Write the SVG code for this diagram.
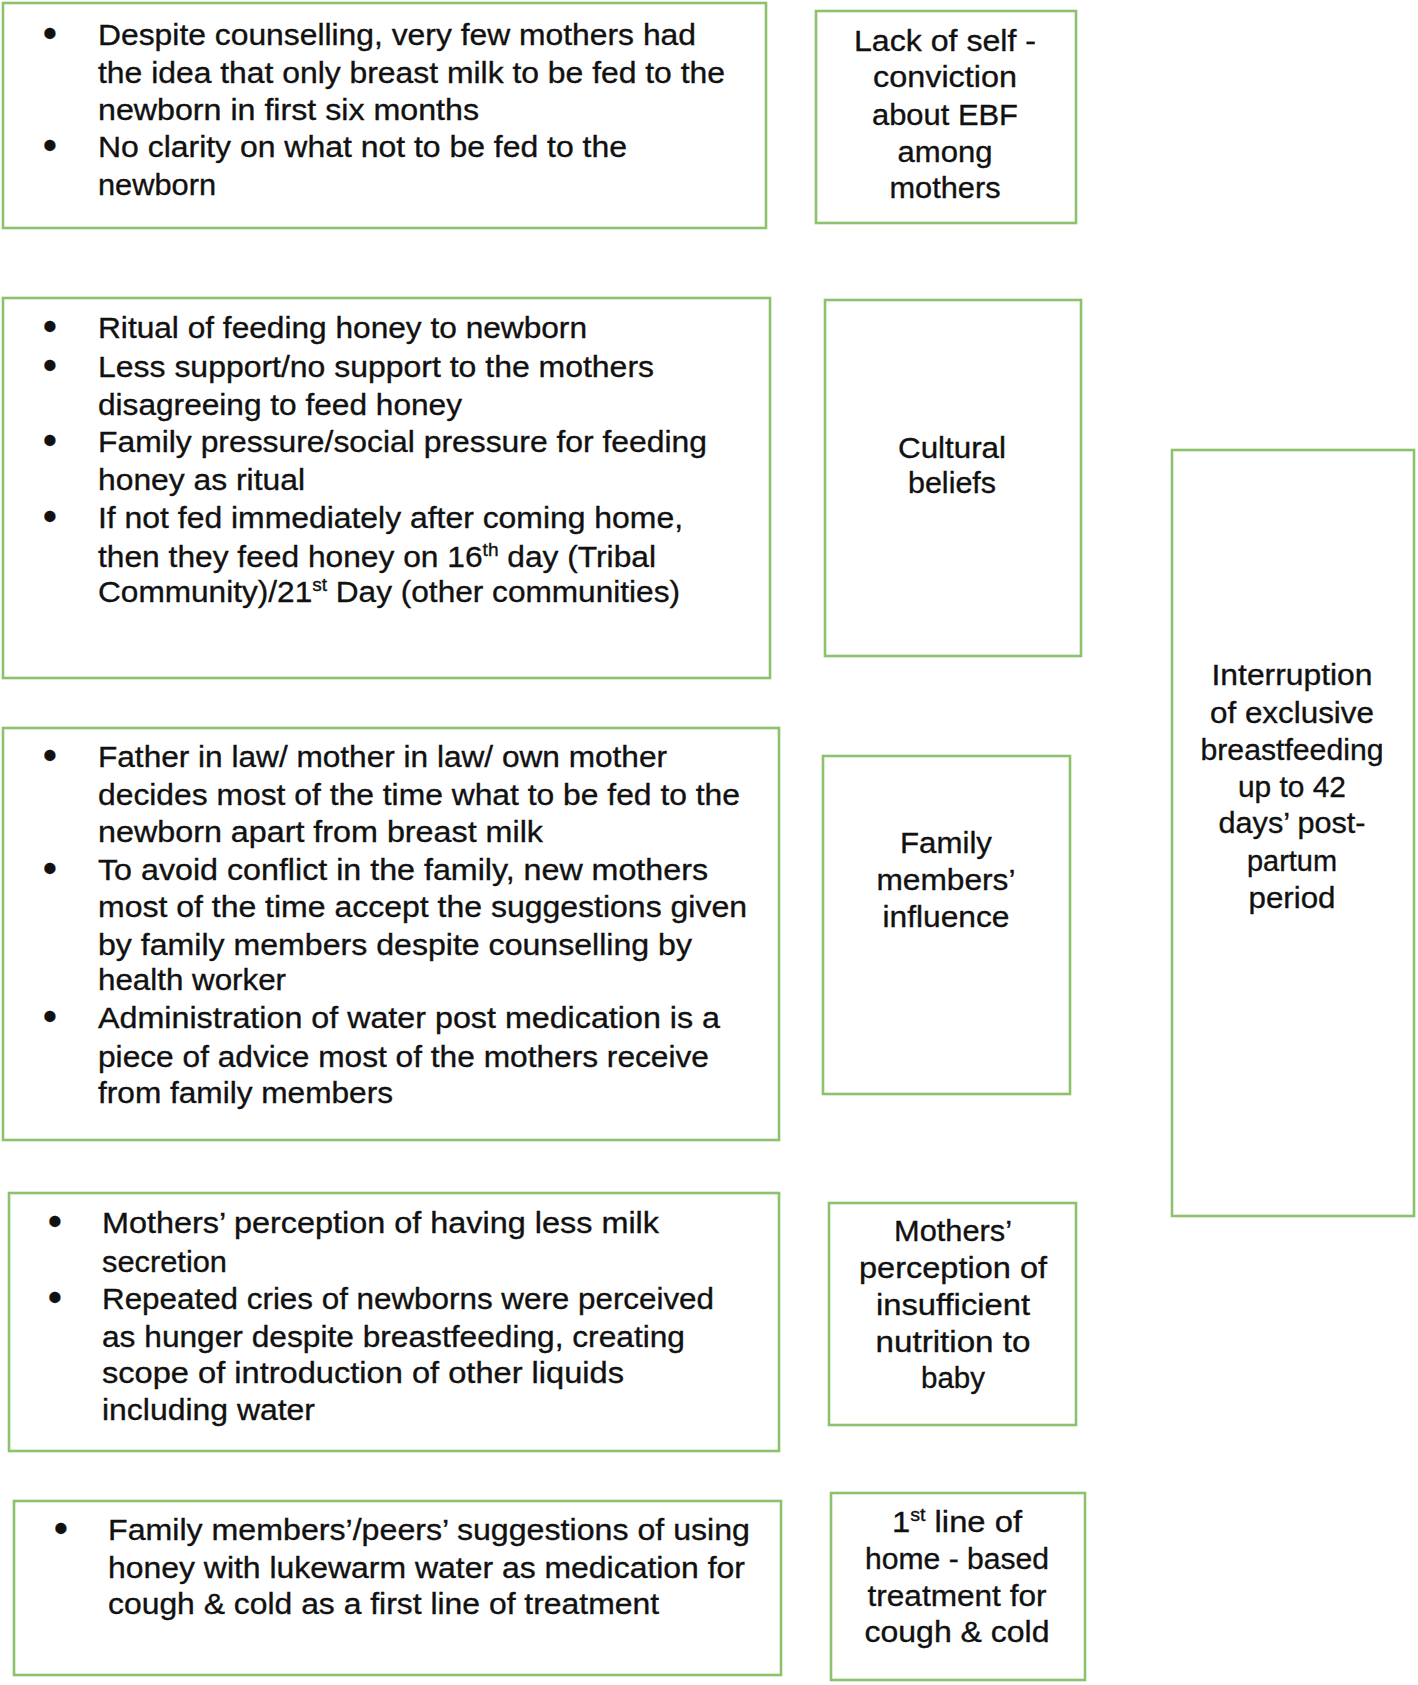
<svg xmlns="http://www.w3.org/2000/svg" width="1418" height="1685" viewBox="0 0 1418 1685">
<style>
.box{fill:#fff;stroke:#8dc26d;stroke-width:2.6}
text{font-family:"Liberation Sans Narrow","Arial Narrow","Liberation Sans",Arial,sans-serif;font-size:30px;fill:#111;stroke:#111;stroke-width:0.35}
.c{text-anchor:middle}
.b{text-anchor:middle;font-family:"Liberation Sans",Arial,sans-serif;font-size:38px;font-weight:bold}
</style>
<rect width="1418" height="1685" fill="#fff"/>
<g id="connectors"/>
<g id="box1">
<rect class="box" x="3" y="3" width="763" height="225"/>
<text class="b" x="50" y="46">•</text>
<text x="98" y="45" textLength="598" lengthAdjust="spacingAndGlyphs">Despite counselling, very few mothers had</text>
<text x="98" y="83" textLength="627" lengthAdjust="spacingAndGlyphs">the idea that only breast milk to be fed to the</text>
<text x="98" y="120" textLength="381" lengthAdjust="spacingAndGlyphs">newborn in first six months</text>
<text class="b" x="50" y="158">•</text>
<text x="98" y="157" textLength="529" lengthAdjust="spacingAndGlyphs">No clarity on what not to be fed to the</text>
<text x="98" y="195" textLength="118" lengthAdjust="spacingAndGlyphs">newborn</text>
</g>
<g id="node-self-conviction">
<rect class="box" x="816" y="11" width="260" height="212"/>
<text class="c" x="945" y="51" textLength="182" lengthAdjust="spacingAndGlyphs">Lack of self -</text>
<text class="c" x="945" y="87" textLength="144" lengthAdjust="spacingAndGlyphs">conviction</text>
<text class="c" x="945" y="125" textLength="146" lengthAdjust="spacingAndGlyphs">about EBF</text>
<text class="c" x="945" y="162" textLength="95" lengthAdjust="spacingAndGlyphs">among</text>
<text class="c" x="945" y="198" textLength="111" lengthAdjust="spacingAndGlyphs">mothers</text>
</g>
<g id="box2">
<rect class="box" x="3" y="298" width="767" height="380"/>
<text class="b" x="50" y="339">•</text>
<text x="98" y="338" textLength="489" lengthAdjust="spacingAndGlyphs">Ritual of feeding honey to newborn</text>
<text class="b" x="50" y="378">•</text>
<text x="98" y="377" textLength="556" lengthAdjust="spacingAndGlyphs">Less support/no support to the mothers</text>
<text x="98" y="415" textLength="364" lengthAdjust="spacingAndGlyphs">disagreeing to feed honey</text>
<text class="b" x="50" y="453">•</text>
<text x="98" y="452" textLength="609" lengthAdjust="spacingAndGlyphs">Family pressure/social  pressure for feeding</text>
<text x="98" y="490" textLength="207" lengthAdjust="spacingAndGlyphs">honey as ritual</text>
<text class="b" x="50" y="529">•</text>
<text x="98" y="528" textLength="585" lengthAdjust="spacingAndGlyphs">If not fed immediately after coming home,</text>
<text x="98" y="567" textLength="558" lengthAdjust="spacingAndGlyphs">then they feed honey on 16<tspan font-size="18" dy="-11">th</tspan><tspan dy="11"> day (Tribal</tspan></text>
<text x="98" y="602" textLength="582" lengthAdjust="spacingAndGlyphs">Community)/21<tspan font-size="18" dy="-11">st</tspan><tspan dy="11"> Day (other communities)</tspan></text>
</g>
<g id="node-cultural">
<rect class="box" x="825" y="300" width="256" height="356"/>
<text class="c" x="952" y="458" textLength="108" lengthAdjust="spacingAndGlyphs">Cultural</text>
<text class="c" x="952" y="493" textLength="88" lengthAdjust="spacingAndGlyphs">beliefs</text>
</g>
<g id="box3">
<rect class="box" x="3" y="728" width="776" height="412"/>
<text class="b" x="50" y="768">•</text>
<text x="98" y="767" textLength="569" lengthAdjust="spacingAndGlyphs">Father in law/ mother in law/ own mother</text>
<text x="98" y="805" textLength="642" lengthAdjust="spacingAndGlyphs">decides most of the time what to be fed to the</text>
<text x="98" y="842" textLength="445" lengthAdjust="spacingAndGlyphs">newborn apart from breast milk</text>
<text class="b" x="50" y="881">•</text>
<text x="98" y="880" textLength="610" lengthAdjust="spacingAndGlyphs">To avoid conflict in the family, new mothers</text>
<text x="98" y="917" textLength="649" lengthAdjust="spacingAndGlyphs">most of the time accept the suggestions  given</text>
<text x="98" y="955" textLength="594" lengthAdjust="spacingAndGlyphs">by family members despite counselling by</text>
<text x="98" y="990" textLength="188" lengthAdjust="spacingAndGlyphs">health worker</text>
<text class="b" x="50" y="1029">•</text>
<text x="98" y="1028" textLength="622" lengthAdjust="spacingAndGlyphs">Administration of water post medication is a</text>
<text x="98" y="1067" textLength="611" lengthAdjust="spacingAndGlyphs">piece of advice most of the mothers receive</text>
<text x="98" y="1103" textLength="295" lengthAdjust="spacingAndGlyphs">from family members</text>
</g>
<g id="node-family">
<rect class="box" x="823" y="756" width="247" height="338"/>
<text class="c" x="946" y="853" textLength="92" lengthAdjust="spacingAndGlyphs">Family</text>
<text class="c" x="946" y="890" textLength="139" lengthAdjust="spacingAndGlyphs">members’</text>
<text class="c" x="946" y="927" textLength="127" lengthAdjust="spacingAndGlyphs">influence</text>
</g>
<g id="node-interruption">
<rect class="box" x="1172" y="450" width="242" height="766"/>
<text class="c" x="1292" y="685" textLength="161" lengthAdjust="spacingAndGlyphs">Interruption</text>
<text class="c" x="1292" y="723" textLength="164" lengthAdjust="spacingAndGlyphs">of exclusive</text>
<text class="c" x="1292" y="760" textLength="183" lengthAdjust="spacingAndGlyphs">breastfeeding</text>
<text class="c" x="1292" y="797" textLength="108" lengthAdjust="spacingAndGlyphs">up to 42</text>
<text class="c" x="1292" y="833" textLength="147" lengthAdjust="spacingAndGlyphs">days’ post-</text>
<text class="c" x="1292" y="871" textLength="90" lengthAdjust="spacingAndGlyphs">partum</text>
<text class="c" x="1292" y="908" textLength="87" lengthAdjust="spacingAndGlyphs">period</text>
</g>
<g id="box4">
<rect class="box" x="9" y="1193" width="770" height="258"/>
<text class="b" x="55" y="1234">•</text>
<text x="102" y="1233" textLength="557" lengthAdjust="spacingAndGlyphs">Mothers’ perception of having less milk</text>
<text x="102" y="1272" textLength="125" lengthAdjust="spacingAndGlyphs">secretion</text>
<text class="b" x="55" y="1310">•</text>
<text x="102" y="1309" textLength="612" lengthAdjust="spacingAndGlyphs">Repeated cries of newborns were perceived</text>
<text x="102" y="1347" textLength="583" lengthAdjust="spacingAndGlyphs">as hunger despite breastfeeding, creating</text>
<text x="102" y="1383" textLength="522" lengthAdjust="spacingAndGlyphs">scope of introduction of other liquids</text>
<text x="102" y="1420" textLength="213" lengthAdjust="spacingAndGlyphs">including water</text>
</g>
<g id="node-perception">
<rect class="box" x="829" y="1203" width="247" height="222"/>
<text class="c" x="953" y="1241" textLength="118" lengthAdjust="spacingAndGlyphs">Mothers’</text>
<text class="c" x="953" y="1278" textLength="188" lengthAdjust="spacingAndGlyphs">perception of</text>
<text class="c" x="953" y="1315" textLength="154" lengthAdjust="spacingAndGlyphs">insufficient</text>
<text class="c" x="953" y="1352" textLength="155" lengthAdjust="spacingAndGlyphs">nutrition to</text>
<text class="c" x="953" y="1388" textLength="64" lengthAdjust="spacingAndGlyphs">baby</text>
</g>
<g id="box5">
<rect class="box" x="14" y="1501" width="767" height="174"/>
<text class="b" x="61" y="1541">•</text>
<text x="108" y="1540" textLength="642" lengthAdjust="spacingAndGlyphs">Family members’/peers’ suggestions of using</text>
<text x="108" y="1578" textLength="637" lengthAdjust="spacingAndGlyphs">honey with lukewarm water as medication for</text>
<text x="108" y="1614" textLength="551" lengthAdjust="spacingAndGlyphs">cough &amp; cold as a first line of treatment</text>
</g>
<g id="node-home-treatment">
<rect class="box" x="831" y="1493" width="254" height="187"/>
<text class="c" x="957" y="1532" textLength="130" lengthAdjust="spacingAndGlyphs">1<tspan font-size="18" dy="-11">st</tspan><tspan dy="11"> line of</tspan></text>
<text class="c" x="957" y="1569" textLength="184" lengthAdjust="spacingAndGlyphs">home - based</text>
<text class="c" x="957" y="1606" textLength="179" lengthAdjust="spacingAndGlyphs">treatment for</text>
<text class="c" x="957" y="1642" textLength="185" lengthAdjust="spacingAndGlyphs">cough &amp; cold</text>
</g>
</svg>
